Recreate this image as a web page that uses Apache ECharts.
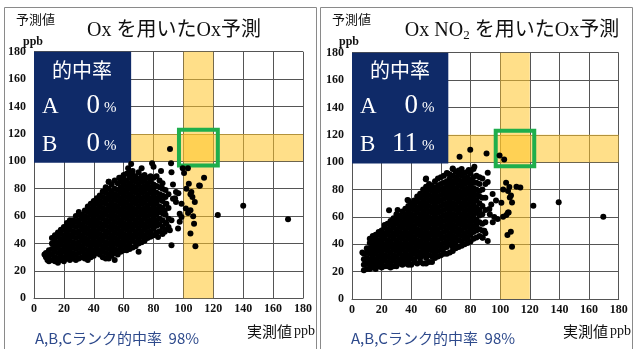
<!DOCTYPE html>
<html>
<head>
<meta charset="utf-8">
<script src="https://cdn.jsdelivr.net/npm/echarts@6/dist/echarts.min.js"></script>
<style>
html,body{margin:0;padding:0;background:#fff;}
#chart{width:634px;height:349px;}
</style>
</head>
<body>
<div id="chart"></div>
<script>
// Measured (x) vs predicted (y) Ox, ppb. Each row: [measured, predicted, predicted, ...]
const oxOnlyCols = [
  [7,32],[8,30,33],[9,28],[10,27,31,35],[12,28,32,36,40,44],[14,27,30,34,38,42,46],
  [16,26,29,33,37,41,45,48],[18,28,31,35,39,43,47,50],[20,27,30,34,38,42,46,50,52],
  [22,29,32,36,40,44,48,52,55],[24,28,31,34,38,42,46,50,54,57],[26,29,33,37,41,45,49,53,57],
  [28,28,32,36,40,44,48,52,56,60],[30,29,33,37,41,45,49,53,57,61,63],[32,30,34,38,42,46,50,54,58,61],
  [34,29,32,36,40,44,48,52,56,60,64],[36,28,31,35,39,43,47,51,55,59,63,67],
  [38,30,33,37,41,45,49,53,57,61,65,69],[40,31,35,39,43,47,51,55,59,63,67,71],
  [42,33,37,41,45,49,53,57,61,65,69,73],[44,32,35,39,43,47,51,55,59,63,67,71,75],
  [46,30,34,38,42,46,50,54,58,62,66,70,74,78],[48,29,33,37,41,45,49,53,57,61,65,69,73,77,81],
  [50,29,32,36,40,44,48,52,56,60,64,68,72,76,80,85],[52,31,34,38,42,46,50,54,58,62,66,70,74,78,83],
  [54,28,33,36,40,44,48,52,56,60,64,68,72,76,80,86],[56,32,35,39,43,47,51,55,59,63,67,71,75,79,84],
  [58,34,37,41,45,49,53,57,61,65,69,73,77,81,85,88],[60,35,39,43,47,51,55,59,63,67,71,75,79,83,87,90],
  [62,35,38,42,46,50,54,58,62,66,70,74,78,82,86,91],[64,36,40,44,48,52,56,60,64,68,72,76,80,84,88,92],
  [66,37,42,46,50,54,58,62,66,70,74,78,82,86,90,93],[68,38,41,45,49,53,57,61,65,69,73,77,81,85,89],
  [70,34,40,43,47,51,55,59,63,67,71,75,79,83,87,92],[72,41,45,49,53,57,61,65,69,73,77,81,85,89],
  [74,42,46,50,54,58,62,66,70,74,78,82,86,90],[76,44,48,52,56,60,64,68,72,76,80,84,88],
  [78,45,49,53,57,61,65,69,73,77,81,85,89],[80,46,51,55,59,63,67,71,75,79,83,88],
  [82,48,53,57,61,65,69,73,77,82,89],[84,49,54,58,63,67,72,76,81,86],[86,47,52,57,62,66,71,75,80,84],
  [88,50,55,61,69,74,79],[90,52,58,66,76]
];
const oxOnlyExtra = [
  [50,85],[57,88],[63,95],[65,98],[72,95],[79,98.5],[80,96],[85,93],[91.7,98.5],[92,92],
  [93,83],[95,77.6],[93,72.7],[95,70.3],[98.7,69],[88.6,69],[87.5,64],[97.5,61.8],[92,57],
  [88.6,54.5],[90.9,49.7],[96.4,50.9],[92,38.8],[87.5,48.5],[83,44.8],[97.5,55.8],[98.7,59.4],
  [96.6,76.6],[94.4,73],[123,60.8],[140,67.6],[170,57.7],
  [99.5,95],[103,95],[91,109],[100.4,91.5],[103.6,83.6],[110.5,82.4],[113.8,88],[102,80],
  [104.7,75.9],[106,74],[107.6,70.3],[101.6,65.5],[104.7,64.2],[103.1,62.3],[106.5,59.9],
  [107.1,54.5],[104.7,47.3],[108,38],[111,82.2],[105.3,77.6]
];

const oxNo2Cols = [
  [8,21,25,29,33],[10,22,26,30,34,37],[12,22,25,29,33,37,41,44],[14,23,27,31,35,39,43,46],
  [16,22,25,29,33,37,41,45,47],[18,24,27,31,35,39,43,47,49],[20,23,26,30,34,38,42,46,50],
  [22,24,28,32,36,40,44,48,52,54],[24,24,27,31,35,39,43,47,51,55],[26,23,26,30,34,38,42,46,50,54,57],
  [28,24,28,32,36,40,44,48,52,56,59],[30,24,27,31,35,39,43,47,51,55,59,62],
  [32,26,29,33,37,41,45,49,53,57,61],[34,25,28,32,36,40,44,48,52,56,60,64],
  [36,26,30,34,38,42,46,50,54,58,62,66],[38,25,28,32,36,40,44,48,52,56,60,64,68,72],
  [40,25,30,34,38,42,46,50,54,58,62,66,70],[42,27,29,33,37,41,45,49,53,57,61,65,69,72],
  [44,26,31,35,39,43,47,51,55,59,63,67,71,75],[46,27,30,34,38,42,46,50,54,58,62,66,70,74,77],
  [48,26,32,36,40,44,48,52,56,60,64,68,72,76,80],[50,26,30,34,38,42,46,50,54,58,62,66,70,74,78,82,88],
  [52,27,32,36,40,44,48,52,56,60,64,68,72,76,80,84],[54,27,31,35,39,43,47,51,55,59,63,67,71,75,79,83],
  [56,30,33,37,41,45,49,53,57,61,65,69,73,77,81,86],[58,31,35,39,43,47,51,55,59,63,67,71,75,79,83,88],
  [60,32,36,40,44,48,52,56,60,64,68,72,76,80,84,89],[62,33,37,41,45,49,53,57,61,65,69,73,77,81,85,90],
  [64,33,38,42,46,50,54,58,62,66,70,74,78,82,86,92],[66,34,40,44,48,52,56,60,64,68,72,76,80,84,88,91],
  [68,35,38,42,46,50,54,58,62,66,70,74,78,82,86,90,95],[70,37,41,45,49,53,57,61,65,69,73,77,81,85,89,93],
  [72,38,43,47,51,55,59,63,67,71,75,79,83,87,91,94],[74,39,42,46,50,54,58,62,66,70,74,78,82,86,90,95],
  [76,40,44,48,52,56,60,64,68,72,76,80,84,88,92],[78,41,45,49,53,57,61,65,69,73,77,81,85,89,93],
  [80,42,47,51,55,59,63,67,71,75,79,83,87,92],[82,44,49,53,57,61,65,69,73,77,81,85,89,95],
  [84,45,50,54,58,63,67,72,76,80,85,90],[86,46,51,56,61,65,70,75,79,84,89],
  [88,45,50,55,62,68,74,80,88],[90,48,56,65,74,84]
];
const oxNo2Extra = [
  [7,34],[25,64.8],[30.8,65],[37.5,72.3],[49.8,87.5],[64.6,91.7],[68,95.4],[72.5,91.7],[78.8,94.2],
  [82.6,96.6],[91.6,92.2],[91.6,85.5],[94.9,76.8],[97.2,71.9],[92.7,65.8],[98.3,58.4],[95,56],
  [89.3,49.8],[91.6,42.4],[88.2,44.8],[93,62],[96,60],[94,69],[122.4,68.2],[139.5,70.7],[169.6,60.1],
  [72.6,103.9],[79.8,109],[90.8,106.3],[99.6,104.8],[102.7,102],[104,85],[111,82],[113.6,81.5],
  [102,80],[105.3,79],[106.5,74.2],[108,70.6],[100.8,70.3],[105.3,63.3],[104.2,61.3],[102,60.1],
  [107.2,49.1],[104.9,46.7],[108,38.2],[106.2,81.8],[107.3,75.6],[105.7,63.3]
];

// Axis ticks and highlight ranges (ppb)
const axisMin = 0, axisMax = 180, axisStep = 20;
const bandRange = [100, 120];
const targetBox = [97, 123];
const scoreBoxX = [0, 65], scoreBoxY = [99, 180];

// Hit-rate texts
const panels = [
  { title: 'Ox を用いたOx予測', rateA: '0', rateB: '0', total: '98%' },
  { title: 'Ox NO2 を用いたOx予測', rateA: '0', rateB: '11', total: '98%' }
];

function expand(cols, extra) {
  const out = [];
  cols.forEach(r => r.slice(1).forEach(y => out.push([r[0], y])));
  return out.concat(extra);
}
const dataSets = [expand(oxOnlyCols, oxOnlyExtra), expand(oxNo2Cols, oxNo2Extra)];

const serif = '"Liberation Serif","Noto Sans CJK JP",serif';
const jp = '"Noto Sans CJK JP",sans-serif';

const grids = [
  { left: 34, top: 51.7, width: 269, height: 246.6 },
  { left: 352, top: 52.7, width: 266.7, height: 246.3 }
];

function axisCommon(idx, margin) {
  return {
    type: 'value', gridIndex: idx, min: axisMin, max: axisMax, interval: axisStep,
    axisLine: { show: true, lineStyle: { color: '#555', width: 1 } },
    axisTick: { show: false },
    splitLine: { show: true, lineStyle: { color: '#555', width: 1 } },
    axisLabel: { color: '#111', fontFamily: serif, fontWeight: 'bold', fontSize: 12, margin: margin }
  };
}

const series = [];
dataSets.forEach((d, i) => {
  series.push({
    type: 'scatter', xAxisIndex: i, yAxisIndex: i, data: d, symbolSize: 6,
    itemStyle: { color: '#000', opacity: 1 }, z: 2, silent: true
  });
  series.push({
    type: 'scatter', xAxisIndex: i, yAxisIndex: i, data: [], z: 3, silent: true,
    markArea: {
      silent: true,
      itemStyle: { color: 'rgba(255,196,40,0.55)' },
      data: [
        [{ xAxis: bandRange[0], yAxis: axisMin }, { xAxis: bandRange[1], yAxis: axisMax }],
        [{ xAxis: axisMin, yAxis: bandRange[0] }, { xAxis: axisMax, yAxis: bandRange[1] }]
      ]
    }
  });
  series.push({
    type: 'scatter', xAxisIndex: i, yAxisIndex: i, data: [], z: 4, silent: true,
    markArea: {
      silent: true,
      itemStyle: { color: 'rgba(0,0,0,0)', borderColor: '#1fae4c', borderWidth: 4 },
      data: [[{ xAxis: targetBox[0], yAxis: targetBox[0] }, { xAxis: targetBox[1], yAxis: targetBox[1] }]]
    }
  });
  series.push({
    type: 'scatter', xAxisIndex: i, yAxisIndex: i, data: [], z: 5, silent: true,
    markArea: {
      silent: true,
      itemStyle: { color: '#0f2a68' },
      data: [[{ xAxis: scoreBoxX[0], yAxis: scoreBoxY[0] }, { xAxis: scoreBoxX[1], yAxis: scoreBoxY[1] }]]
    }
  });
});

function panelGraphics(i, ox) {
  const p = panels[i];
  const g = [];
  const txt = (x, y, text, font, fill, align) => g.push({
    type: 'text', x: x, y: y, z: 100,
    style: { text: text, font: font, fill: fill, textAlign: align || 'left', textVerticalAlign: 'middle' }
  });
  // frame
  g.push({ type: 'rect', shape: { x: ox + 4.5, y: 7.5, width: 312, height: 360 }, style: { fill: 'none', stroke: '#8a8a8a', lineWidth: 1 }, z: 90 });
  // axis names
  txt(ox + 16, 19, '予測値', '13px ' + jp, '#111');
  txt(ox + 23, 42, 'ppb', 'bold 12px ' + serif, '#111');
  txt(ox + 247, 331, '実測値', '15px ' + jp, '#111');
  txt(ox + 294, 331, 'ppb', '14px ' + serif, '#111');
  // score box
  const bx = grids[i].left;
  txt(bx + 48, 70, '的中率', '20px ' + jp, '#fff', 'center');
  txt(bx + 8, 107, 'A', '23px ' + serif, '#fff');
  txt(bx + 8, 145, 'B', '23px ' + serif, '#fff');
  txt(bx + 66, 106, p.rateA, '27px ' + serif, '#fff', 'right');
  txt(bx + 66, 144, p.rateB, '27px ' + serif, '#fff', 'right');
  txt(bx + 70, 108, '%', '15px ' + serif, '#fff');
  txt(bx + 70, 146, '%', '15px ' + serif, '#fff');
  // total hit rate
  txt(ox + 35, 338, 'A,B,Cランク的中率  ' + p.total, '15px ' + jp, '#2e4a8c');
  return g;
}

const graphics = panelGraphics(0, 0).concat(panelGraphics(1, 316));
// titles
graphics.push({
  type: 'text', x: 174, y: 31, z: 100,
  style: { text: panels[0].title, font: '20px ' + serif, fill: '#111', textAlign: 'center', textVerticalAlign: 'middle' }
});
graphics.push({
  type: 'text', x: 512, y: 31, z: 100,
  style: {
    text: '{a|Ox NO}{s|2}{a| を用いたOx予測}',
    textAlign: 'center', textVerticalAlign: 'middle',
    rich: {
      a: { font: '20px ' + serif, fill: '#111', color: '#111' },
      s: { font: '13px ' + serif, fill: '#111', color: '#111', padding: [10, 0, 0, 0] }
    }
  }
});

const chart = echarts.init(document.getElementById('chart'), null, { renderer: 'canvas' });
chart.setOption({
  animation: false,
  backgroundColor: '#fff',
  grid: grids,
  xAxis: [0, 1].map(i => axisCommon(i, 5)),
  yAxis: [0, 1].map(i => axisCommon(i, 8)),
  series: series,
  graphic: graphics
});
</script>
</body>
</html>
